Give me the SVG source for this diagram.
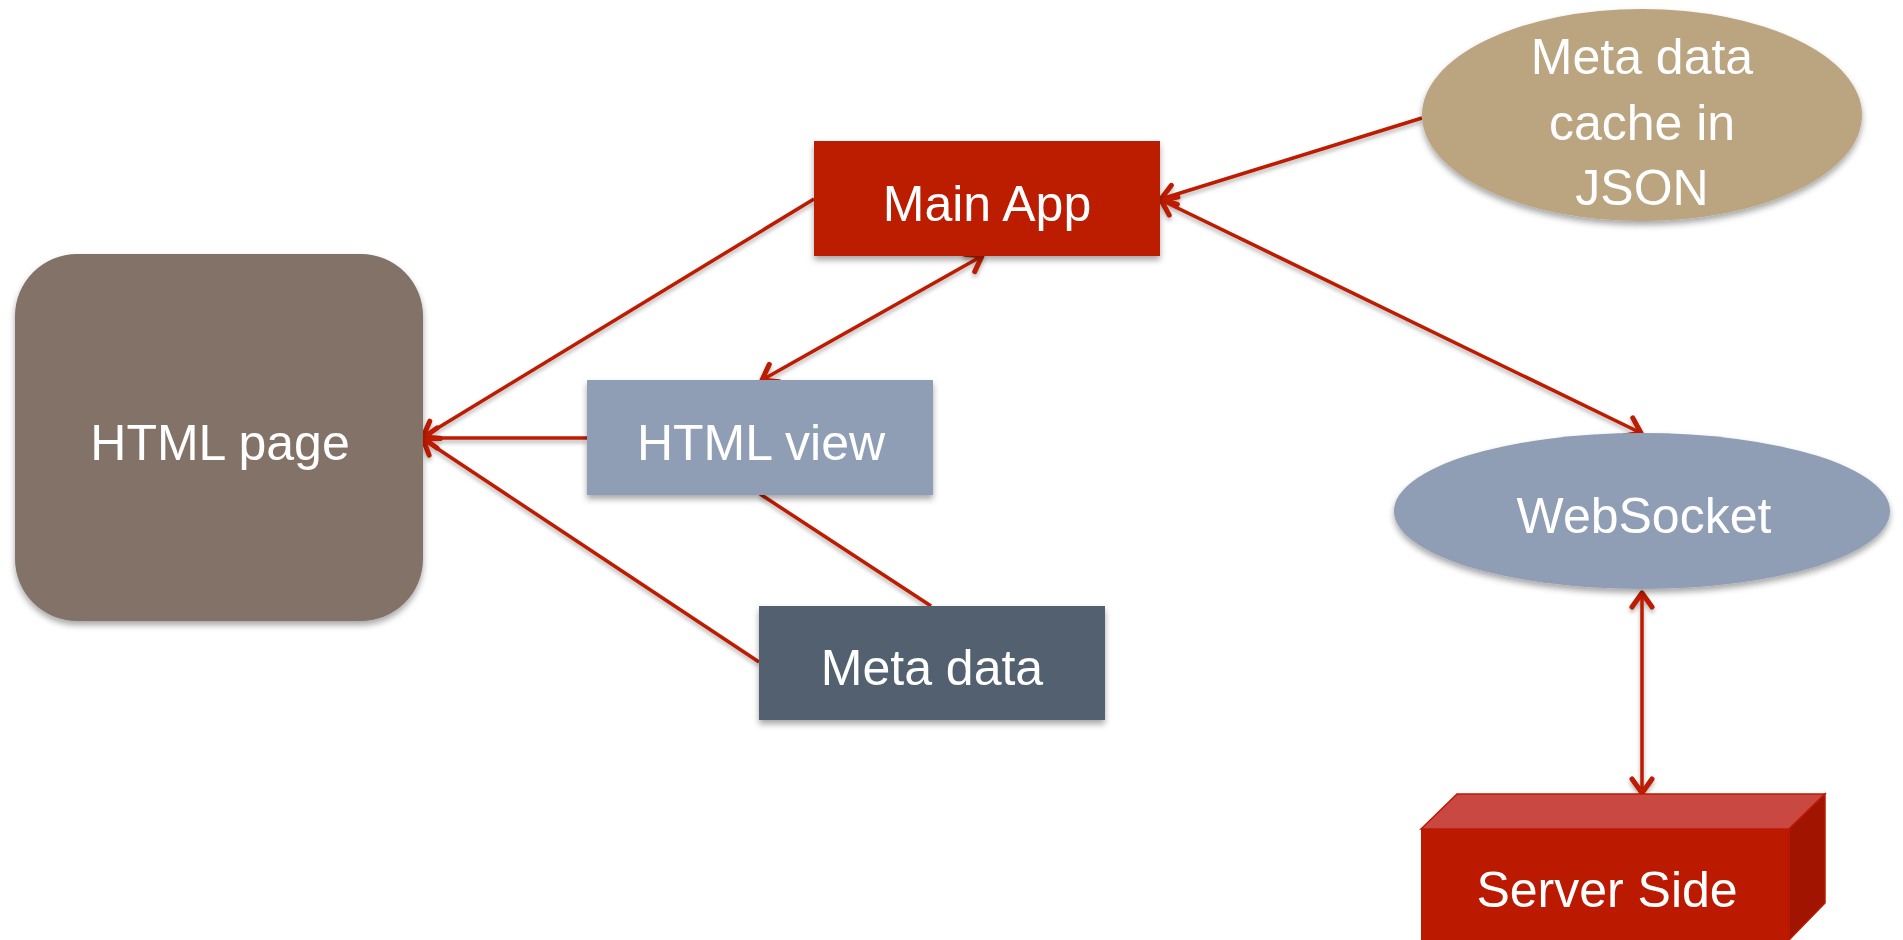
<svg xmlns="http://www.w3.org/2000/svg" width="1903" height="940" viewBox="0 0 1903 940">
<defs>
<filter id="sh" x="-10%" y="-10%" width="120%" height="130%">
<feDropShadow dx="0" dy="4" stdDeviation="3" flood-color="#000" flood-opacity="0.35"/>
</filter>
<filter id="lsh" x="-5%" y="-5%" width="110%" height="110%" filterUnits="userSpaceOnUse">
<feDropShadow dx="0" dy="3" stdDeviation="2" flood-color="#000" flood-opacity="0.3"/>
</filter>
<marker id="arr" markerUnits="userSpaceOnUse" markerWidth="30" markerHeight="30" viewBox="-20 -15 30 30" refX="0" refY="0" orient="auto-start-reverse">
<path d="M -14 -10 L 0 0 L -14 10" fill="none" stroke="#BC1A00" stroke-width="5" stroke-linecap="round" stroke-linejoin="round"/>
</marker>
</defs>
<style>
.t{font-family:"Liberation Sans",Arial,sans-serif;font-size:50px;fill:#fff;text-anchor:middle}
.c{stroke:#BC1A00;stroke-width:3.5;fill:none}
</style>
<rect width="1903" height="940" fill="#fff"/>
<g id="connectors" filter="url(#lsh)">
<line class="c" x1="814" y1="199" x2="423" y2="437" marker-end="url(#arr)"/>
<line class="c" x1="587" y1="438" x2="423" y2="438" marker-end="url(#arr)"/>
<line class="c" x1="759" y1="662" x2="423" y2="439" marker-end="url(#arr)"/>
<line class="c" x1="982" y1="256" x2="762" y2="380" marker-start="url(#arr)" marker-end="url(#arr)"/>
<line class="c" x1="1422" y1="118" x2="1161" y2="199" marker-end="url(#arr)"/>
<line class="c" x1="1161" y1="200" x2="1641" y2="433" marker-start="url(#arr)" marker-end="url(#arr)"/>
<line class="c" x1="760" y1="494" x2="931" y2="606"/>
<line class="c" x1="1642" y1="593" x2="1642" y2="793" marker-start="url(#arr)" marker-end="url(#arr)"/>
</g>
<g id="main-app" filter="url(#sh)">
<rect x="814" y="141" width="346" height="115" fill="#BC1A00"/>
<text class="t" x="987" y="221">Main App</text>
</g>
<g id="cache" filter="url(#sh)">
<ellipse cx="1642" cy="115" rx="220" ry="106" fill="#BBA480"/>
<text class="t" x="1642" y="74">Meta data</text>
<text class="t" x="1642" y="140">cache in</text>
<text class="t" x="1642" y="205">JSON</text>
</g>
<g id="html-page" filter="url(#sh)">
<rect x="15" y="254" width="408" height="367" rx="62" ry="62" fill="#837268"/>
<text class="t" x="220" y="460">HTML page</text>
</g>
<g id="html-view" filter="url(#sh)">
<rect x="587" y="380" width="346" height="115" fill="#8F9DB5"/>
<text class="t" x="761" y="460">HTML view</text>
</g>
<g id="meta-data" filter="url(#sh)">
<rect x="759" y="606" width="346" height="114" fill="#526170"/>
<text class="t" x="932" y="685">Meta data</text>
</g>
<g id="websocket" filter="url(#sh)">
<ellipse cx="1642" cy="511" rx="248" ry="78" fill="#8F9DB5"/>
<text class="t" x="1644" y="533">WebSocket</text>
</g>
<g id="server-side">
<polygon points="1421,829 1457,794 1825,794 1789,829" fill="#C94842" stroke="#BC1A00" stroke-width="1.5"/>
<polygon points="1789,829 1825,794 1825,903 1789,940" fill="#A01400" stroke="#BC1A00" stroke-width="1.5"/>
<rect x="1421" y="829" width="368" height="115" fill="#BC1A00"/>
<text class="t" x="1607" y="907">Server Side</text>
</g>
</svg>
